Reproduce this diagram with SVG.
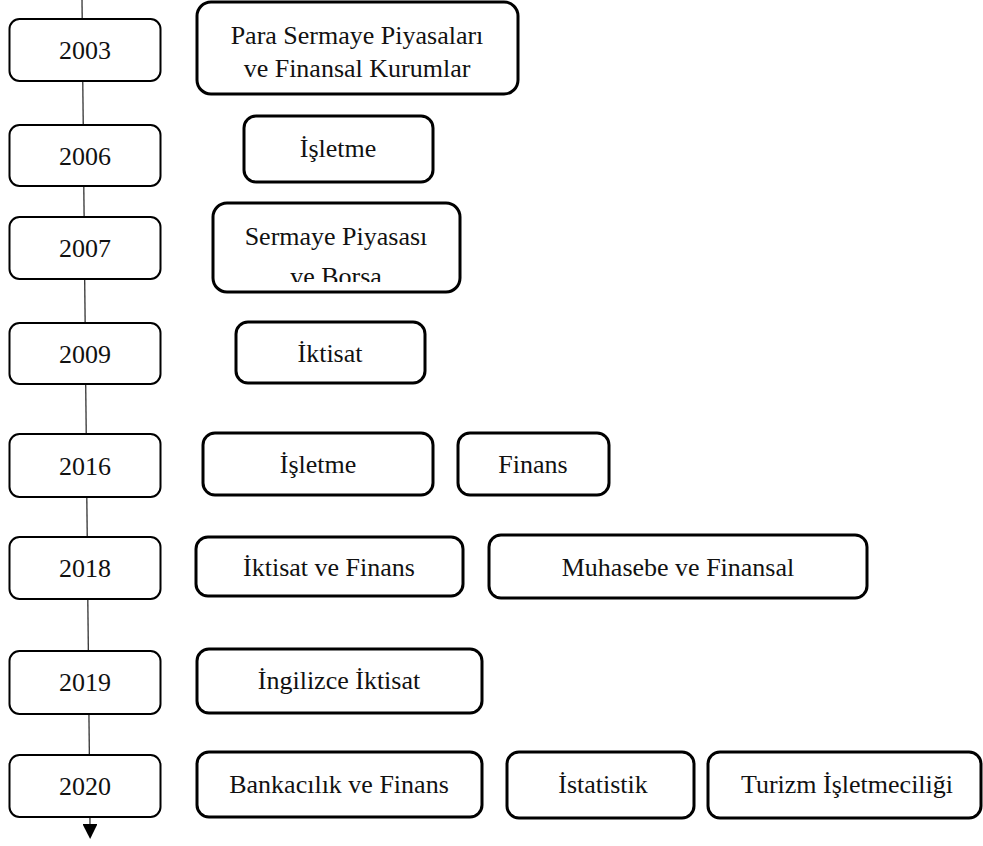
<svg xmlns="http://www.w3.org/2000/svg" width="983" height="846" viewBox="0 0 983 846">
<style>
.yr{fill:#fff;stroke:#000;stroke-width:2}
.bx{fill:#fff;stroke:#000;stroke-width:3}
text{font-family:"Liberation Serif","Times New Roman",serif;font-size:26px;fill:#111;text-anchor:middle}
.ln{stroke:#222;stroke-width:1.2;fill:none}
</style>
<defs>
<marker id="arr" viewBox="0 0 15 15" refX="0" refY="7.5" markerWidth="15" markerHeight="15" markerUnits="userSpaceOnUse" orient="auto">
<path d="M0,0 L15,7.5 L0,15 z" fill="#000"/>
</marker>
<clipPath id="clipB"><rect x="213" y="203" width="247" height="79"/></clipPath>
</defs>
<rect width="983" height="846" fill="#fff"/>
<g id="connectors">
<line class="ln" x1="82" y1="0" x2="90" y2="824" marker-end="url(#arr)"/>
</g>
<g id="y2003"><rect class="yr" x="9.5" y="19" width="151" height="62" rx="10"/><text x="85" y="59">2003</text></g>
<g id="y2006"><rect class="yr" x="9.5" y="125" width="151" height="61" rx="10"/><text x="85" y="165">2006</text></g>
<g id="y2007"><rect class="yr" x="9.5" y="217" width="151" height="62" rx="10"/><text x="85" y="257">2007</text></g>
<g id="y2009"><rect class="yr" x="9.5" y="323" width="151" height="61" rx="10"/><text x="85" y="363">2009</text></g>
<g id="y2016"><rect class="yr" x="9.5" y="434" width="151" height="63" rx="10"/><text x="85" y="475">2016</text></g>
<g id="y2018"><rect class="yr" x="9.5" y="537" width="151" height="62" rx="10"/><text x="85" y="577">2018</text></g>
<g id="y2019"><rect class="yr" x="9.5" y="651" width="151" height="63" rx="10"/><text x="85" y="691">2019</text></g>
<g id="y2020"><rect class="yr" x="9.5" y="755" width="151" height="62" rx="10"/><text x="85" y="795">2020</text></g>

<g id="n-para"><rect class="bx" x="197" y="2" width="321" height="92" rx="14"/><text x="357" y="44">Para Sermaye Piyasaları</text><text x="357" y="77">ve Finansal Kurumlar</text></g>
<g id="n-isletme2006"><rect class="bx" x="244" y="116" width="189" height="66" rx="12"/><text x="338" y="157">İşletme</text></g>
<g id="n-sermaye"><rect class="bx" x="213" y="203" width="247" height="89" rx="14"/><g clip-path="url(#clipB)"><text x="336" y="245">Sermaye Piyasası</text><text x="336" y="285">ve Borsa</text></g></g>
<g id="n-iktisat2009"><rect class="bx" x="236" y="322" width="189" height="61" rx="12"/><text x="330" y="362">İktisat</text></g>
<g id="n-isletme2016"><rect class="bx" x="203" y="433" width="230" height="62" rx="12"/><text x="318" y="473">İşletme</text></g>
<g id="n-finans"><rect class="bx" x="458" y="433" width="151" height="62" rx="12"/><text x="533" y="473">Finans</text></g>
<g id="n-iktisatfinans"><rect class="bx" x="196" y="537" width="267" height="59" rx="12"/><text x="329" y="576">İktisat ve Finans</text></g>
<g id="n-muhasebe"><rect class="bx" x="489" y="535" width="378" height="63" rx="12"/><text x="678" y="576">Muhasebe ve Finansal</text></g>
<g id="n-ingilizce"><rect class="bx" x="197" y="649" width="285" height="64" rx="12"/><text x="339" y="689">İngilizce İktisat</text></g>
<g id="n-bankacilik"><rect class="bx" x="197" y="752" width="285" height="65" rx="12"/><text x="339" y="793">Bankacılık ve Finans</text></g>
<g id="n-istatistik"><rect class="bx" x="507" y="752" width="187" height="66" rx="12"/><text x="603" y="793">İstatistik</text></g>
<g id="n-turizm"><rect class="bx" x="708" y="752" width="273" height="66" rx="12"/><text x="847" y="793">Turizm İşletmeciliği</text></g>
</svg>
